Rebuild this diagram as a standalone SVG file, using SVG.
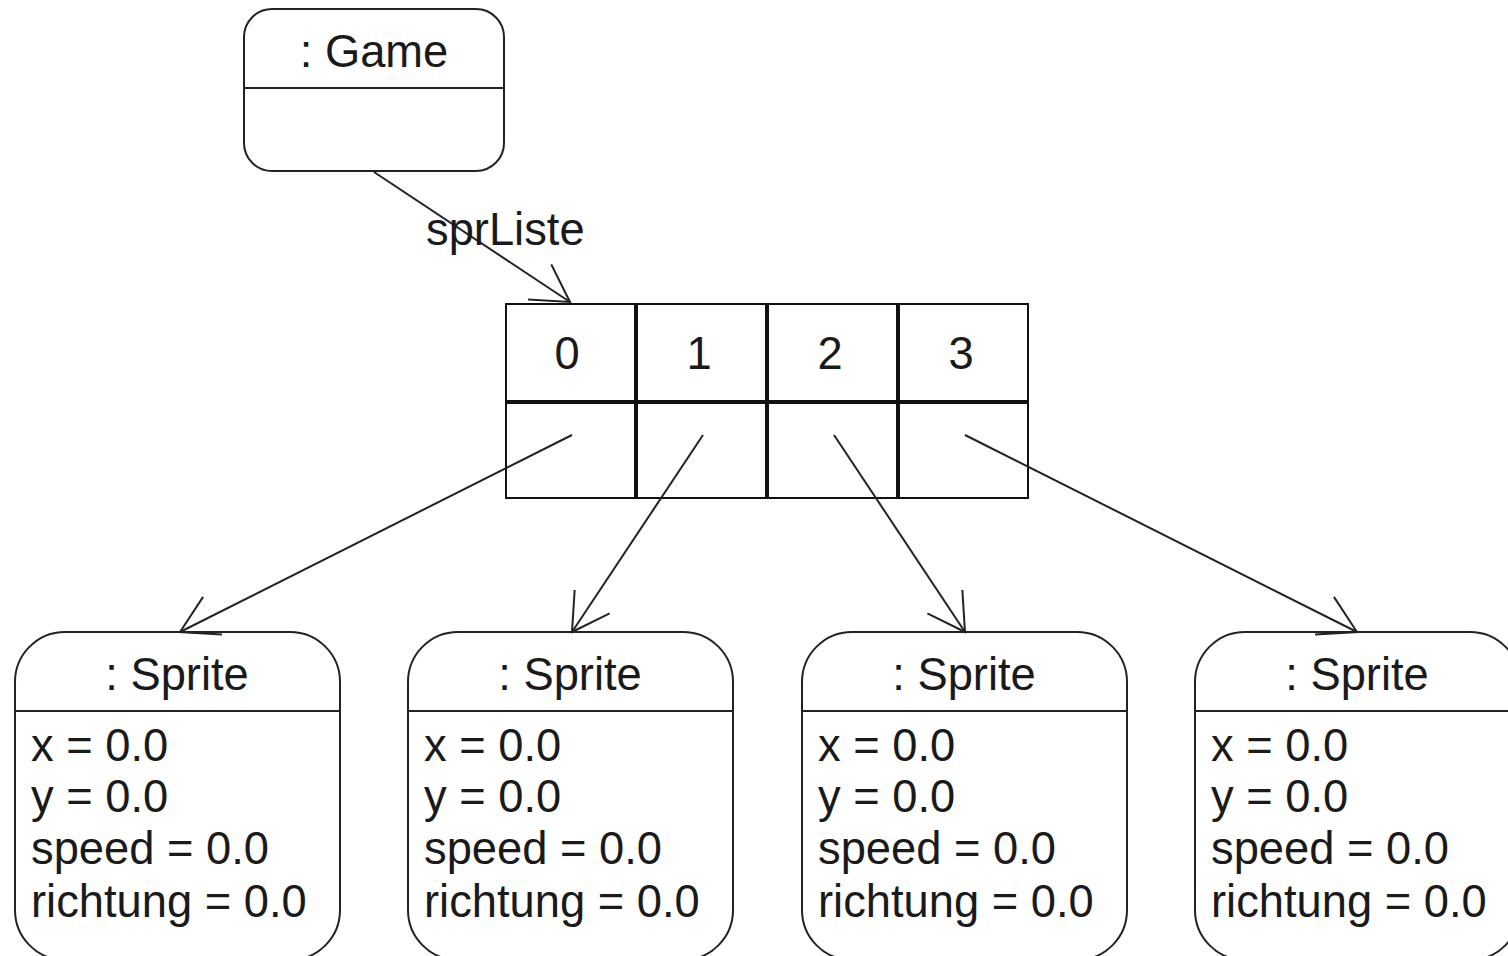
<svg xmlns="http://www.w3.org/2000/svg" width="1508" height="956" viewBox="0 0 1508 956">
  <style>
    .box { fill: #ffffff; stroke: #222222; stroke-width: 2; }
    .sep { stroke: #222222; stroke-width: 2; }
    .cell { fill: none; stroke: #111111; stroke-width: 2; }
    .div { stroke: #111111; stroke-width: 4; }
    .t { font-family: "Liberation Sans", Arial, sans-serif; font-size: 45.3px; fill: #1a1a1a; }
    .c { text-anchor: middle; }
    .link { fill: none; stroke: #222222; stroke-width: 2; }
  </style>
  <defs>
    <!-- open arrowhead, 42px legs at 30 degrees -->
    <marker id="open" markerUnits="userSpaceOnUse" viewBox="-45 -25 50 50" refX="0" refY="0" markerWidth="50" markerHeight="50" orient="auto" overflow="visible">
      <path d="M-36.4,-21 L0,0 L-36.4,21" fill="none" stroke="#222222" stroke-width="2"/>
    </marker>
  </defs>

  <rect width="1508" height="956" fill="#ffffff"/>

  <!-- Game object -->
  <g id="game">
    <rect class="box" x="244" y="9" width="260" height="162" rx="28" ry="28"/>
    <line class="sep" x1="244" y1="88" x2="504" y2="88"/>
    <text class="t c" x="374" y="67">: Game</text>
  </g>

  <!-- sprite list array -->
  <g id="sprListe">
    <rect class="cell" x="506" y="304" width="522" height="194"/>
    <line class="div" x1="506" y1="402" x2="1028" y2="402"/>
    <line class="div" x1="636" y1="304" x2="636" y2="498"/>
    <line class="div" x1="767" y1="304" x2="767" y2="498"/>
    <line class="div" x1="898" y1="304" x2="898" y2="498"/>
    <text class="t c" x="567" y="369">0</text>
    <text class="t c" x="699" y="369">1</text>
    <text class="t c" x="830" y="369">2</text>
    <text class="t c" x="961" y="369">3</text>
  </g>

  <!-- Sprite objects -->
  <g id="sprite0">
    <rect class="box" x="15" y="632" width="325" height="328" rx="50" ry="50"/>
    <line class="sep" x1="15" y1="711" x2="340" y2="711"/>
    <text class="t c" x="177" y="690">: Sprite</text>
    <text class="t" x="31" y="761">x = 0.0</text>
    <text class="t" x="31" y="812">y = 0.0</text>
    <text class="t" x="31" y="864">speed = 0.0</text>
    <text class="t" x="31" y="917">richtung = 0.0</text>
  </g>
  <g id="sprite1">
    <rect class="box" x="408" y="632" width="325" height="328" rx="50" ry="50"/>
    <line class="sep" x1="408" y1="711" x2="733" y2="711"/>
    <text class="t c" x="570" y="690">: Sprite</text>
    <text class="t" x="424" y="761">x = 0.0</text>
    <text class="t" x="424" y="812">y = 0.0</text>
    <text class="t" x="424" y="864">speed = 0.0</text>
    <text class="t" x="424" y="917">richtung = 0.0</text>
  </g>
  <g id="sprite2">
    <rect class="box" x="802" y="632" width="325" height="328" rx="50" ry="50"/>
    <line class="sep" x1="802" y1="711" x2="1127" y2="711"/>
    <text class="t c" x="964" y="690">: Sprite</text>
    <text class="t" x="818" y="761">x = 0.0</text>
    <text class="t" x="818" y="812">y = 0.0</text>
    <text class="t" x="818" y="864">speed = 0.0</text>
    <text class="t" x="818" y="917">richtung = 0.0</text>
  </g>
  <g id="sprite3">
    <rect class="box" x="1195" y="632" width="325" height="328" rx="50" ry="50"/>
    <line class="sep" x1="1195" y1="711" x2="1520" y2="711"/>
    <text class="t c" x="1357" y="690">: Sprite</text>
    <text class="t" x="1211" y="761">x = 0.0</text>
    <text class="t" x="1211" y="812">y = 0.0</text>
    <text class="t" x="1211" y="864">speed = 0.0</text>
    <text class="t" x="1211" y="917">richtung = 0.0</text>
  </g>

  <!-- references -->
  <g id="connectors">
    <line class="link" x1="374" y1="172" x2="570" y2="302" marker-end="url(#open)"/>
    <text class="t" x="426" y="245">sprListe</text>
    <line class="link" x1="572" y1="435" x2="180" y2="632" marker-end="url(#open)"/>
    <line class="link" x1="703" y1="435" x2="572" y2="632" marker-end="url(#open)"/>
    <line class="link" x1="834" y1="435" x2="965" y2="632" marker-end="url(#open)"/>
    <line class="link" x1="965" y1="435" x2="1357" y2="632" marker-end="url(#open)"/>
  </g>
</svg>
